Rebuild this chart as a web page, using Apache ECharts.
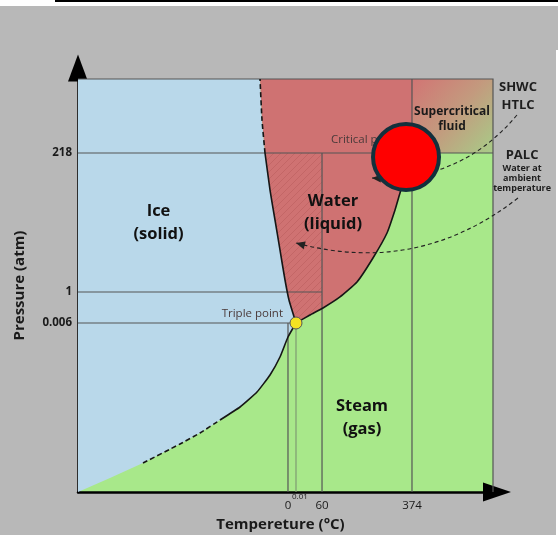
<!DOCTYPE html>
<html><head><meta charset="utf-8">
<script src="https://cdn.jsdelivr.net/npm/echarts@6/dist/echarts.min.js"></script>
<style>html,body{margin:0;padding:0;background:#b8b8b8;}#c{width:558px;height:535px;}</style>
</head><body><div id="c"></div>
<script>
// ---------- DATA (schematic diagram units: temperature axis 0-100, pressure axis 0-100) ----------
const xTickValues = [50.6, 52.53, 58.8, 80.48];
const xTickLabels = ['0', '0.01', '60', '374'];
const yTickValues = [40.92, 48.43, 82.08];
const yTickLabels = ['0.006', '1', '218'];

const sublimationCurve = [[0,0],[7.71,3.39],[15.66,7.02],[24.58,11.62],[29.40,14.29],[34.22,17.43],[39.04,20.58],[43.13,24.21],[46.27,28.33],[48.67,32.69],[50.60,37.53],[52.53,40.92]];
const meltingCurve = [[52.53,40.92],[50.84,46.49],[49.88,51.33],[48.67,58.60],[47.47,65.86],[46.27,73.12],[45.06,82.08],[44.34,90.07],[43.86,100]];
const vaporCurve = [[52.53,40.92],[55.90,42.86],[59.04,44.55],[63.13,47.22],[67.23,50.85],[71.08,56.66],[74.46,62.71],[76.39,68.28],[77.59,72.40],[78.55,75.54],[80.48,82.08]];
const triplePoint = [52.53, 40.92];
const criticalPoint = [80.48, 82.08];
const highlightMarker = [79.04, 81.11];

// guide lines: pressure tick index -> temperature tick index it runs to (null = full width)
const pressureGuides = [[2, null], [1, 2], [0, 1]];
// temperature tick index -> pressure tick index it runs up to (null = full height)
const temperatureGuides = [[0, 0], [1, 0], [2, 2], [3, null]];

const phaseLabels = [['Ice\n(solid)', 19.4, 65.13], ['Water\n(liquid)', 61.45, 67.55], ['Steam\n(gas)', 68.43, 18.04]];
const smallLabels = [['Critical point', 60.96, 85.23, 'left'], ['Triple point', 49.40, 43.10, 'right']];
const sideLabels = [['SHWC\nHTLC', 106.02, 95.88], ['PALC', 107.0, 81.6]];
const sideNotes = [['Water at\nambient\ntemperature', 107.0, 76.03]];
const supercriticalLabel = ['Supercritical\nfluid', 90.12, 90.19];
// pointer arrows: [from, to, curveness]
const pointerArrows = [[[106.02, 71.19], [52.53, 60.29], 0.25], [[105.78, 91.28], [70.84, 76.03], 0.25]];

const FONT = '"Open Sans", "Noto Sans", sans-serif';

function hatch(poly, step) {
  let minK = Infinity, maxK = -Infinity;
  poly.forEach(p => { const k = p[0] + p[1]; minK = Math.min(minK, k); maxK = Math.max(maxK, k); });
  const segs = [];
  for (let k = Math.ceil(minK / step) * step; k <= maxK; k += step) {
    const xs = [];
    for (let i = 0; i < poly.length; i++) {
      const a = poly[i], b = poly[(i + 1) % poly.length];
      const ka = a[0] + a[1] - k, kb = b[0] + b[1] - k;
      if ((ka < 0) !== (kb < 0)) { const t = ka / (ka - kb); xs.push(a[0] + t * (b[0] - a[0])); }
    }
    xs.sort((m, n) => m - n);
    for (let j = 0; j + 1 < xs.length; j += 2) segs.push([xs[j], k - xs[j], xs[j + 1], k - xs[j + 1]]);
  }
  return segs;
}

function renderRegions(params, api) {
  const c = p => api.coord(p);
  const ice = [[0, 100]].concat(sublimationCurve, meltingCurve.slice(1)).map(c);
  const liquid = meltingCurve.concat([[criticalPoint[0], 100]], vaporCurve.slice().reverse()).map(c);
  const tl = c([criticalPoint[0], 100]), br = c([100, criticalPoint[1]]);
  const t60 = xTickValues[2], p218 = yTickValues[2];
  let yInt = null;
  for (let i = 0; i + 1 < vaporCurve.length; i++) {
    const a = vaporCurve[i], b = vaporCurve[i + 1];
    if (a[0] <= t60 && b[0] >= t60) { yInt = a[1] + (t60 - a[0]) / (b[0] - a[0]) * (b[1] - a[1]); break; }
  }
  const hPoly = meltingCurve.filter(p => p[1] <= p218)
    .concat([[t60, p218], [t60, yInt]], vaporCurve.filter(p => p[0] < t60).reverse()).map(c);
  const children = [
    { type: 'polygon', shape: { points: ice, smooth: 0 }, style: { fill: '#b9d8ea' } },
    { type: 'polygon', shape: { points: liquid }, style: { fill: '#cf7272' } },
    { type: 'rect', shape: { x: tl[0], y: tl[1], width: br[0] - tl[0], height: br[1] - tl[1] },
      style: { fill: new echarts.graphic.LinearGradient(0, 0, 1, 1, [
        { offset: 0, color: '#d27474' }, { offset: 0.5, color: '#c39a7e' }, { offset: 1, color: '#a8cc88' }]) } }
  ];
  hatch(hPoly, 7).forEach(s => children.push({ type: 'line', shape: { x1: s[0], y1: s[1], x2: s[2], y2: s[3] },
    style: { stroke: 'rgba(150,60,60,0.22)', lineWidth: 1 } }));
  return { type: 'group', children };
}

function renderLines(params, api) {
  const c = p => api.coord(p);
  const children = [];
  const guide = (a, b, col) => { const p = c(a), q = c(b);
    children.push({ type: 'line', shape: { x1: p[0], y1: p[1], x2: q[0], y2: q[1] }, style: { stroke: col, lineWidth: 1.2 } }); };
  pressureGuides.forEach(g => guide([0, yTickValues[g[0]]], [g[1] === null ? 100 : xTickValues[g[1]], yTickValues[g[0]]], '#555'));
  temperatureGuides.forEach((g, i) => guide([xTickValues[g[0]], 0], [xTickValues[g[0]], g[1] === null ? 100 : yTickValues[g[1]]], i === 1 ? '#7f9a72' : '#555'));
  const tl = c([0, 100]), tr = c([100, 100]), brc = c([100, 0]);
  children.push({ type: 'polyline', shape: { points: [tl, tr, brc] }, style: { stroke: '#555', lineWidth: 1.2, fill: null } });
  const curve = (pts, dashed) => children.push({ type: 'polyline', shape: { points: pts.map(c), smooth: 0.15 },
    style: { stroke: '#161616', lineWidth: 1.6, fill: null, lineDash: dashed ? [5, 3] : null } });
  curve(sublimationCurve.slice(2, 6), true);
  curve(sublimationCurve.slice(5), false);
  curve(meltingCurve.filter(p => p[1] <= yTickValues[2]), false);
  curve(meltingCurve.filter(p => p[1] >= yTickValues[2]), true);
  curve(vaporCurve, false);
  return { type: 'group', children };
}

function renderArrows(params, api) {
  const children = [];
  pointerArrows.forEach(a => {
    const p1 = api.coord(a[0]), p2 = api.coord(a[1]), k = a[2];
    const cp = [(p1[0] + p2[0]) / 2 - (p1[1] - p2[1]) * k, (p1[1] + p2[1]) / 2 - (p2[0] - p1[0]) * k];
    children.push({ type: 'bezierCurve', shape: { x1: p1[0], y1: p1[1], x2: p2[0], y2: p2[1], cpx1: cp[0], cpy1: cp[1] },
      style: { stroke: '#222', lineWidth: 1.1, fill: null, lineDash: [4, 3] } });
    let dx = p2[0] - cp[0], dy = p2[1] - cp[1]; const L = Math.hypot(dx, dy); dx /= L; dy /= L;
    const len = 9, hw = 4;
    const bx = p2[0] - dx * len, by = p2[1] - dy * len;
    children.push({ type: 'polygon', shape: { points: [[p2[0], p2[1]], [bx - dy * hw, by + dx * hw], [bx + dy * hw, by - dx * hw]] },
      style: { fill: '#222' } });
  });
  return { type: 'group', children };
}

function txt(c, s, x, y, size, weight, color, align, lh) {
  const p = c([x, y]);
  return { type: 'text', x: p[0], y: p[1], style: { text: s, fontSize: size, fontWeight: weight, fontFamily: FONT,
    fill: color, align: align || 'center', verticalAlign: 'middle', lineHeight: lh } };
}

function renderTexts(params, api) {
  const c = p => api.coord(p);
  const ch = [];
  phaseLabels.forEach(l => ch.push(txt(c, l[0], l[1], l[2], 16.5, 'bold', '#111', 'center', 23)));
  smallLabels.forEach(l => ch.push(txt(c, l[0], l[1], l[2], 11.5, 'normal', '#4a3a3a', l[3], 14)));
  ch.push(txt(c, supercriticalLabel[0], supercriticalLabel[1], supercriticalLabel[2], 12, 'bold', '#1a1a1a', 'center', 15));
  sideLabels.forEach(l => ch.push(txt(c, l[0], l[1], l[2], 13, 'bold', '#1e1e1e', 'center', 18)));
  sideNotes.forEach(l => ch.push(txt(c, l[0], l[1], l[2], 9, 'bold', '#1e1e1e', 'center', 10)));
  const p = c([xTickValues[1], 0]);
  ch.push({ type: 'text', x: p[0] - 4, y: p[1] + 5, style: { text: xTickLabels[1], fontSize: 8, fontFamily: FONT, fill: '#222', align: 'left', verticalAlign: 'middle' } });
  return { type: 'group', children: ch };
}

const chart = echarts.init(document.getElementById('c'), null, { renderer: 'canvas' });
chart.setOption({
  animation: false,
  backgroundColor: '#b8b8b8',
  graphic: [
    { type: 'rect', left: 0, top: 0, shape: { width: 558, height: 6 }, style: { fill: '#ffffff' }, silent: true },
    { type: 'rect', left: 55, top: 0, shape: { width: 503, height: 2 }, style: { fill: '#000000' }, silent: true },
    { type: 'rect', left: 556, top: 50, shape: { width: 2, height: 485 }, style: { fill: '#ffffff' }, silent: true }
  ],
  grid: { left: 78, right: 65, top: 79, bottom: 43, show: true, backgroundColor: '#a8e88a', borderWidth: 0, containLabel: false, outerBoundsMode: 'none' },
  xAxis: {
    type: 'value', min: 0, max: 100, splitLine: { show: false }, axisTick: { show: false },
    axisLine: { show: true, lineStyle: { color: '#000', width: 2.5 }, symbol: ['none', 'triangle'], symbolSize: [19, 28], symbolOffset: [0, 4] },
    axisLabel: { customValues: xTickValues, formatter: v => { const i = xTickValues.indexOf(v); return i === 1 ? '' : (i >= 0 ? xTickLabels[i] : ''); },
      color: '#1a1a1a', fontSize: 11.5, fontFamily: FONT, margin: 8, hideOverlap: false },
    name: 'Tempereture (°C)', nameLocation: 'middle', nameGap: 23,
    nameTextStyle: { fontSize: 15, fontWeight: 'bold', fontFamily: FONT, color: '#1a1a1a', padding: [0, 10, 0, 0] }
  },
  yAxis: {
    type: 'value', min: 0, max: 100, splitLine: { show: false }, axisTick: { show: false },
    axisLine: { show: true, lineStyle: { color: '#000', width: 2.5 }, symbol: ['none', 'triangle'], symbolSize: [20, 27], symbolOffset: [0, 11] },
    axisLabel: { customValues: yTickValues, formatter: v => { const i = yTickValues.indexOf(v); return i >= 0 ? yTickLabels[i] : ''; },
      color: '#1a1a1a', fontSize: 11.5, fontWeight: 'bold', fontFamily: FONT, margin: 6, hideOverlap: false },
    name: 'Pressure (atm)', nameLocation: 'middle', nameGap: 51, nameRotate: 90,
    nameTextStyle: { fontSize: 15, fontWeight: 'bold', fontFamily: FONT, color: '#1a1a1a' }
  },
  series: [
    { type: 'custom', silent: true, z: 1, data: [[0, 0]], renderItem: renderRegions, clip: false },
    { type: 'custom', silent: true, z: 2, data: [[0, 0]], renderItem: renderLines, clip: false },
    { type: 'custom', silent: true, z: 3, data: [[0, 0]], renderItem: renderTexts, clip: false },
    { type: 'custom', silent: true, z: 4, data: [[0, 0]], renderItem: renderArrows, clip: false },
    { type: 'scatter', silent: true, z: 6, data: [highlightMarker], symbolSize: 66,
      itemStyle: { color: '#ff0000', borderColor: '#13303c', borderWidth: 4, opacity: 1 } },
    { type: 'scatter', silent: true, z: 7, data: [triplePoint], symbolSize: 12,
      itemStyle: { color: '#f3e222', borderColor: '#555', borderWidth: 1, opacity: 1 } }
  ]
});
</script></body></html>
